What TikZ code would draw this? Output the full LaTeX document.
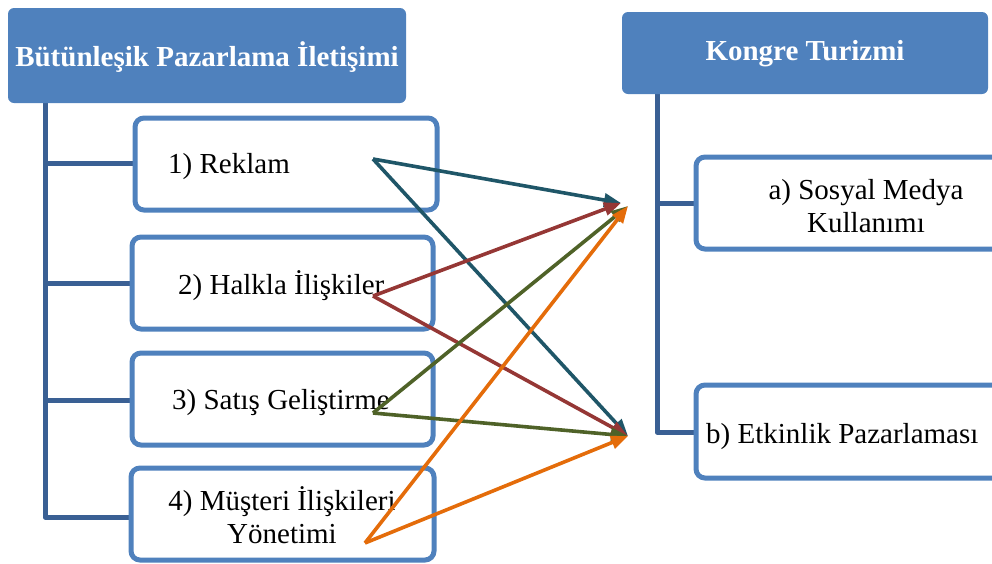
\documentclass[tikz,border=0pt]{standalone}
\usepackage{fontspec}
\setmainfont{Liberation Serif}
\usetikzlibrary{arrows.meta}
\definecolor{hdr}{RGB}{79,129,189}
\definecolor{trunk}{RGB}{58,96,148}
\definecolor{teal}{RGB}{31,86,104}
\definecolor{redc}{RGB}{149,55,53}
\definecolor{grn}{RGB}{79,98,40}
\definecolor{org}{RGB}{228,108,10}
\tikzset{
  header/.style={fill=hdr, rounded corners=6pt, inner sep=0pt, draw=none},
  hdrtext/.style={text=white, font=\fontsize{29}{33}\selectfont\bfseries, inner sep=0pt},
  itembox/.style={draw=hdr, line width=5pt, rounded corners=9pt, inner sep=0pt, fill=white},
  itemtext/.style={font=\fontsize{29}{33}\selectfont, inner sep=0pt, align=center},
  trunkline/.style={draw=trunk, line width=5pt},
  conn/.style={line width=3.6pt, -{Triangle[length=17pt,width=13pt]}},
}
\begin{document}
\begin{tikzpicture}[x=1pt,y=-1pt]
\useasboundingbox (0,0) rectangle (992,563);
% trunks
\coordinate (lt) at (45,100);
\coordinate (lb) at (45,517);
\coordinate (rt) at (657,92);
\coordinate (rb) at (657,432);
\draw[trunkline, line join=round] (lt) -- (lb) -- (135,517);
\draw[trunkline] (45,163) -- (137,163);
\draw[trunkline] (45,283) -- (134,283);
\draw[trunkline] (45,400) -- (134,400);
\draw[trunkline, line join=round] (rt) -- (rb) -- (698,432);
\draw[trunkline] (657,203) -- (698,203);
% headers
\node[header, minimum width=398pt, minimum height=95pt] (h1) at (207,55.5) {};
\node[hdrtext] (h1t) at (207,57) {Bütünleşik Pazarlama İletişimi};
\node[header, minimum width=366pt, minimum height=82pt] (h2) at (805,53) {};
\node[hdrtext] (h2t) at (805,54) {Kongre Turizmi};
% left boxes
\node[itembox, minimum width=302pt, minimum height=92pt] (b1) at (286,164) {};
\node[itembox, minimum width=301pt, minimum height=92pt] (b2) at (282.5,283) {};
\node[itembox, minimum width=301pt, minimum height=92pt] (b3) at (282.5,399) {};
\node[itembox, minimum width=303pt, minimum height=92pt] (b4) at (282.5,514) {};
\node[itemtext, anchor=west] (t1) at (168,167) {1) Reklam};
\node[itemtext, anchor=west] (t2) at (178,286) {2) Halkla İlişkiler};
\node[itemtext, anchor=west] (t3) at (172,403) {3) Satış Geliştirme};
\node[itemtext] (t4) at (282,515) {4) Müşteri İlişkileri\\Yönetimi};
% right boxes
\node[itembox, minimum width=320pt, minimum height=92pt] (ra) at (856,203) {};
\node[itembox, minimum width=320pt, minimum height=93pt] (rbx) at (856,431.5) {};
\node[itemtext] (ta) at (866,206) {a) Sosyal Medya\\Kullanımı};
\node[itemtext, anchor=west] (tb) at (706,437) {b) Etkinlik Pazarlaması};
% connector points
\coordinate (s1) at (373,159);
\coordinate (s2) at (373,296);
\coordinate (s3) at (373,413);
\coordinate (s4) at (365,543);
\coordinate (ea) at (621,203);
\coordinate (eo) at (628,206);
\coordinate (eb) at (628,436);
\draw[conn, teal] (s1) -- (ea);
\draw[conn, teal] (s1) -- (eb);
\draw[conn, redc] (s2) -- (ea);
\draw[conn, redc] (s2) -- (eb);
\draw[conn, grn] (s3) -- (eo);
\draw[conn, grn] (s3) -- (eb);
\draw[conn, org] (s4) -- (eo);
\draw[conn, org] (s4) -- (eb);
\end{tikzpicture}
\end{document}
